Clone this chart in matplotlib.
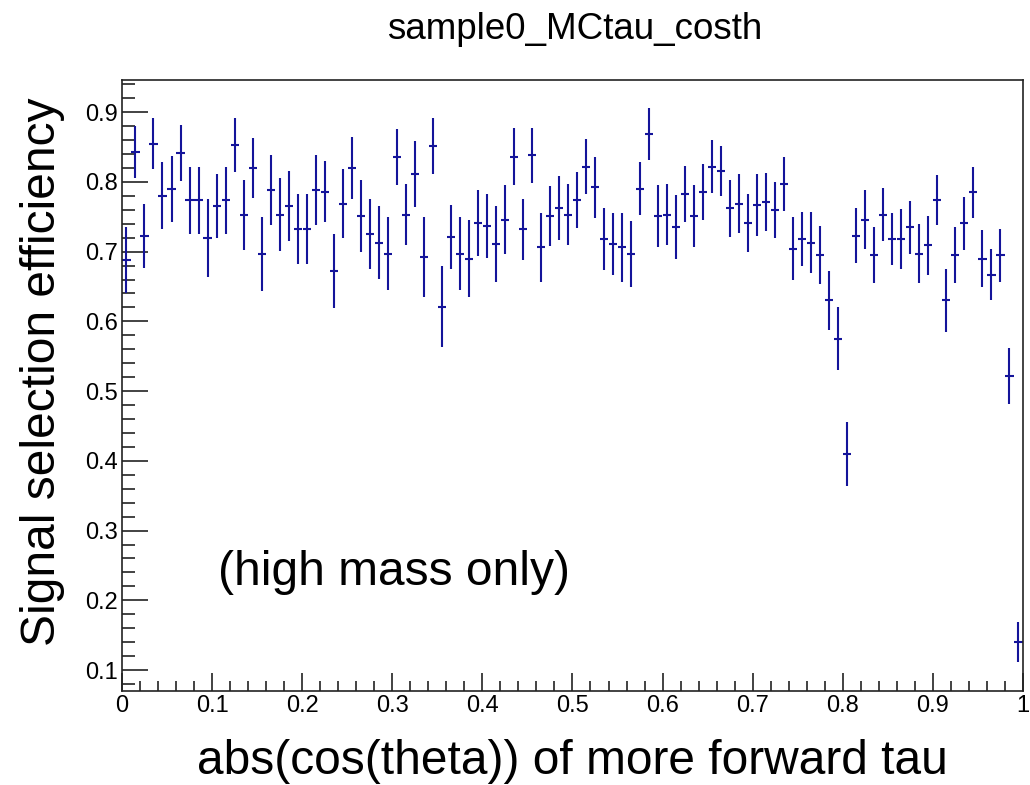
import numpy as np
import matplotlib
matplotlib.use("Agg")
import matplotlib.pyplot as plt
from matplotlib.ticker import MultipleLocator

plt.rcParams['font.family'] = ['Liberation Sans', 'DejaVu Sans']

# 100 bins in abs(cos(theta)) from 0 to 1
n_bins = 100
bin_edges = np.linspace(0, 1, n_bins + 1)

efficiency = [
    0.688, 0.843, 0.723, 0.855, 0.780, 0.790, 0.841, 0.774, 0.774, 0.720,
    0.765, 0.774, 0.853, 0.753, 0.820, 0.697, 0.788, 0.753, 0.765, 0.732,
    0.732, 0.788, 0.786, 0.672, 0.769, 0.820, 0.751, 0.725, 0.713, 0.697,
    0.836, 0.753, 0.811, 0.692, 0.852, 0.621, 0.721, 0.697, 0.690, 0.741,
    0.737, 0.711, 0.746, 0.836, 0.732, 0.838, 0.706, 0.751, 0.762, 0.753,
    0.774, 0.822, 0.792, 0.718, 0.711, 0.706, 0.697, 0.790, 0.869, 0.751,
    0.753, 0.735, 0.783, 0.751, 0.785, 0.822, 0.816, 0.762, 0.769, 0.741,
    0.767, 0.771, 0.760, 0.797, 0.704, 0.718, 0.713, 0.695, 0.630, 0.575,
    0.410, 0.723, 0.746, 0.695, 0.753, 0.718, 0.718, 0.735, 0.697, 0.709,
    0.774, 0.630, 0.695, 0.741, 0.785, 0.690, 0.667, 0.695, 0.522, 0.140,
]

eff_error = [
    0.048, 0.037, 0.046, 0.037, 0.048, 0.047, 0.040, 0.048, 0.048, 0.056,
    0.046, 0.048, 0.039, 0.050, 0.043, 0.053, 0.050, 0.052, 0.050, 0.050,
    0.050, 0.050, 0.044, 0.053, 0.050, 0.044, 0.052, 0.050, 0.052, 0.052,
    0.040, 0.044, 0.047, 0.057, 0.040, 0.058, 0.046, 0.052, 0.055, 0.047,
    0.046, 0.054, 0.050, 0.041, 0.044, 0.039, 0.050, 0.043, 0.046, 0.044,
    0.040, 0.039, 0.044, 0.045, 0.045, 0.050, 0.047, 0.038, 0.037, 0.044,
    0.044, 0.046, 0.040, 0.044, 0.040, 0.038, 0.036, 0.041, 0.042, 0.041,
    0.044, 0.042, 0.040, 0.039, 0.045, 0.039, 0.044, 0.042, 0.042, 0.045,
    0.046, 0.040, 0.042, 0.040, 0.038, 0.037, 0.043, 0.038, 0.042, 0.042,
    0.036, 0.045, 0.040, 0.038, 0.037, 0.041, 0.037, 0.038, 0.040, 0.029,
]

bin_centers = 0.5 * (bin_edges[:-1] + bin_edges[1:])
half_width = 0.45 * (bin_edges[1] - bin_edges[0])

fig = plt.figure(figsize=(10.3, 7.85), dpi=100)
ax = fig.add_axes([0.1184, 0.120, 0.8748, 0.778])

ax.errorbar(bin_centers, efficiency, yerr=eff_error, xerr=half_width,
            fmt='none', ecolor='#14149a', elinewidth=1.5, capsize=0)

ax.set_xlim(0, 1)
ax.set_ylim(0.0703, 0.946)

# ROOT-like ticks: inward, major + 5 subdivisions
ax.xaxis.set_major_locator(MultipleLocator(0.1))
ax.xaxis.set_minor_locator(MultipleLocator(0.02))
ax.yaxis.set_major_locator(MultipleLocator(0.1))
ax.yaxis.set_minor_locator(MultipleLocator(0.02))
ax.tick_params(axis='both', which='both', direction='in', top=False, right=False,
               labelsize=17, width=1.2, color='#222222')
ax.tick_params(axis='x', which='major', length=13)
ax.tick_params(axis='x', which='minor', length=7.5)
ax.tick_params(axis='y', which='major', length=18.5)
ax.tick_params(axis='y', which='minor', length=9)
ax.tick_params(axis='x', which='major', pad=3)
ax.tick_params(axis='y', which='major', pad=3)

ax.xaxis.set_major_formatter(plt.FuncFormatter(lambda v, p: '0' if abs(v) < 1e-9 else ('1' if abs(v - 1) < 1e-9 else f'{v:.1f}')))
ax.yaxis.set_major_formatter(plt.FuncFormatter(lambda v, p: f'{v:.1f}'))

for s in ax.spines.values():
    s.set_linewidth(1.2)
    s.set_color('#222222')

ax.set_xlabel('abs(cos(theta)) of more forward tau', fontsize=34.5, labelpad=16)
ax.set_ylabel('Signal selection efficiency', fontsize=34.5)
ax.yaxis.set_label_coords(-0.063, 0.523)
fig.text(0.558, 0.962, 'sample0_MCtau_costh', fontsize=26.5, ha='center', va='center')

ax.text(0.107, 0.24, '(high mass only)', fontsize=34.5, ha='left', va='center')

fig.savefig('out.png', dpi=100)
